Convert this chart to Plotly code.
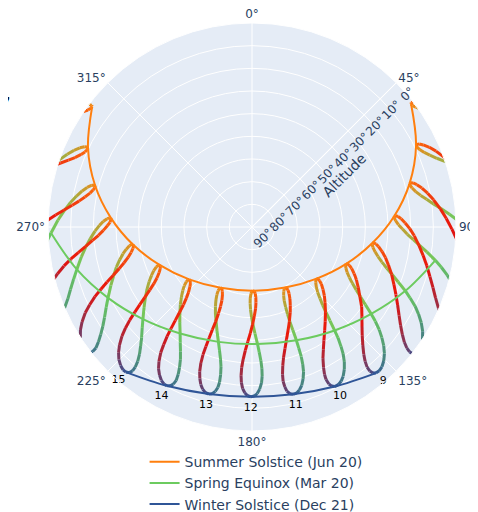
from datetime import date
import plotly.graph_objects as go
import plotly.colors as pc

# Sample dates (index 0..35): 1st, 11th, 21st of each month (Mar 20, Jun 20 for the 21st)
date_labels = ["2024-01-01", "2024-01-11", "2024-01-21", "2024-02-01", "2024-02-11", "2024-02-21",
               "2024-03-01", "2024-03-11", "2024-03-20", "2024-04-01", "2024-04-11", "2024-04-21",
               "2024-05-01", "2024-05-11", "2024-05-21", "2024-06-01", "2024-06-11", "2024-06-20",
               "2024-07-01", "2024-07-11", "2024-07-21", "2024-08-01", "2024-08-11", "2024-08-21",
               "2024-09-01", "2024-09-11", "2024-09-21", "2024-10-01", "2024-10-11", "2024-10-21",
               "2024-11-01", "2024-11-11", "2024-11-21", "2024-12-01", "2024-12-11", "2024-12-21"]

hours = list(range(4, 21))

# Solar azimuth (deg) and altitude (deg) at each hour, per sample date (None = below horizon)
az_h04 = [None]*14 + [55.1, 53.8, 52.9, 52.3, 52.0, 52.2] + [None]*16
alt_h04 = [None]*14 + [-0.9, 0.5, 1.2, 1.3, 0.8, -0.3] + [None]*16

az_h05 = [None]*10 + [72.8, 71.2, 69.6, 68.0, 66.6, 65.2, 64.2, 63.6, 63.4, 63.6, 64.4, 65.8, 67.6, 69.9, 72.8] + [None]*11
alt_h05 = [None]*10 + [-3.0, 0.2, 3.0, 5.4, 7.2, 8.5, 9.1, 9.2, 8.6, 7.6, 6.2, 4.2, 2.2, 0.0, -2.6] + [None]*11

az_h06 = [None]*8 + [88.5, 86.3, 84.5, 82.8, 81.0, 79.4, 77.8, 76.3, 75.2, 74.6, 74.4, 74.7, 75.6, 77.1,
                     79.1, 81.5, 84.5, 87.5, 90.6, 93.7] + [None]*8
alt_h06 = [None]*8 + [-1.5, 2.7, 6.1, 9.3, 12.0, 14.3, 16.1, 17.3, 17.9, 17.9, 17.3, 16.3, 14.9, 13.1,
                      11.1, 9.0, 6.5, 4.2, 1.8, -0.7] + [None]*8

az_h07 = [None]*5 + [105.7, 103.9, 102.0, 100.3, 98.1, 96.3, 94.5, 92.7, 90.8, 89.1, 87.5, 86.3, 85.7,
                     85.5, 85.9, 86.8, 88.5, 90.6, 93.1, 96.3, 99.4, 102.5, 105.6, 108.5, 111.1, 113.5,
                     115.2] + [None]*4
alt_h07 = [None]*5 + [-1.6, 1.2, 4.6, 7.8, 12.1, 15.5, 18.6, 21.4, 23.6, 25.4, 26.6, 27.1, 27.1, 26.5,
                      25.4, 24.1, 22.4, 20.4, 18.3, 15.9, 13.5, 11.0, 8.5, 5.8, 3.2, 0.3, -2.3] + [None]*4

az_h08 = [None]*2 + [123.4, 121.4, 119.5, 117.6, 115.9, 114.2, 112.6, 110.6, 108.8, 107.0, 105.1, 103.2,
                     101.4, 99.6, 98.3, 97.6, 97.4, 97.8, 98.8, 100.7, 102.9, 105.6, 108.8, 112.0, 115.1,
                     118.2, 121.0, 123.5, 125.6, 127.1, 128.0, 128.4, 128.3] + [None]*1
alt_h08 = [None]*2 + [-0.1, 1.8, 4.2, 7.1, 10.0, 13.5, 16.7, 21.1, 24.6, 27.8, 30.6, 32.9, 34.6, 35.9,
                      36.4, 36.4, 35.8, 34.8, 33.5, 31.6, 29.6, 27.5, 24.9, 22.5, 19.9, 17.1, 14.3, 11.4,
                      8.4, 5.7, 3.3, 1.3, -0.3] + [None]*1

az_h09 = [138.5, 137.1, 135.5, 133.7, 132.0, 130.4, 128.9, 127.4, 126.1, 124.4, 122.8, 121.1, 119.3,
          117.4, 115.5, 113.6, 112.2, 111.4, 111.1, 111.5, 112.6, 114.5, 116.8, 119.6, 122.9, 126.0,
          129.1, 132.0, 134.6, 136.8, 138.7, 139.9, 140.6, 140.7, 140.4, 139.7]
alt_h09 = [5.3, 5.8, 7.1, 9.2, 11.8, 14.8, 17.9, 21.5, 24.9, 29.4, 33.0, 36.3, 39.2, 41.6, 43.5, 44.8,
           45.4, 45.4, 44.8, 43.8, 42.4, 40.5, 38.4, 36.1, 33.3, 30.2, 27.5, 24.7, 21.7, 18.6, 15.3,
           12.5, 10.0, 7.9, 6.4, 5.5]

az_h10 = [151.3, 150.0, 148.6, 147.0, 145.6, 144.3, 143.3, 142.2, 141.4, 140.2, 139.1, 137.9, 136.4,
          134.8, 133.0, 131.1, 129.6, 128.6, 128.1, 128.5, 129.4, 131.3, 133.5, 136.1, 139.2, 142.2,
          145.0, 147.6, 149.8, 151.6, 153.0, 153.8, 154.1, 153.9, 153.4, 152.6]
alt_h10 = [10.7, 11.4, 12.8, 15.2, 17.9, 21.1, 24.3, 28.1, 31.6, 36.3, 40.1, 43.5, 46.5, 49.2, 51.2,
           52.7, 53.4, 53.5, 53.1, 51.9, 50.4, 48.3, 46.0, 43.5, 40.4, 37.3, 34.1, 30.8, 27.4, 24.2,
           20.5, 17.5, 15.2, 12.9, 11.5, 10.7]

az_h11 = [165.0, 163.8, 162.6, 161.4, 160.4, 159.7, 159.2, 158.9, 158.6, 158.4, 158.2, 157.8, 157.2,
          156.4, 155.2, 153.7, 152.3, 151.2, 150.4, 150.3, 150.9, 152.2, 153.9, 155.9, 158.4, 160.7,
          162.9, 164.8, 166.4, 167.5, 168.3, 168.6, 168.4, 168.0, 167.2, 166.2]
alt_h11 = [14.1, 15.1, 16.7, 19.3, 22.2, 25.5, 28.8, 32.7, 36.3, 41.1, 44.9, 48.5, 51.7, 54.5, 56.7,
           58.4, 59.3, 59.5, 59.1, 57.9, 56.4, 54.1, 51.6, 48.7, 45.2, 41.8, 38.2, 34.5, 30.8, 27.3,
           23.6, 20.5, 18.0, 16.0, 14.6, 14.0]

az_h12 = [179.2, 178.2, 177.3, 176.5, 176.1, 176.0, 176.2, 176.7, 177.3, 178.4, 179.4, 180.3, 181.0,
          181.4, 181.4, 180.9, 180.1, 179.2, 178.0, 177.2, 176.9, 177.0, 177.5, 178.5, 179.7, 180.9,
          182.1, 183.1, 183.8, 184.2, 184.2, 183.9, 183.3, 182.5, 181.5, 180.4]
alt_h12 = [15.4, 16.5, 18.4, 21.1, 24.1, 27.5, 30.9, 34.7, 38.3, 43.0, 46.8, 50.3, 53.5, 56.3, 58.6,
           60.5, 61.6, 61.9, 61.6, 60.6, 59.0, 56.6, 53.9, 50.7, 46.9, 43.2, 39.4, 35.5, 31.6, 27.9,
           24.2, 21.2, 18.6, 16.8, 15.5, 15.1]

az_h13 = [193.4, 192.6, 192.0, 191.8, 192.0, 192.5, 193.4, 194.8, 196.3, 198.6, 200.7, 202.8, 204.7,
          206.3, 207.4, 208.0, 207.9, 207.3, 206.1, 204.8, 203.5, 202.3, 201.6, 201.2, 201.0, 201.1,
          201.1, 201.1, 201.0, 200.6, 199.9, 199.0, 198.0, 196.9, 195.7, 194.5]
alt_h13 = [14.4, 15.7, 17.6, 20.0, 23.4, 26.8, 30.1, 33.8, 37.2, 41.6, 45.2, 48.4, 51.4, 54.1, 56.3,
           58.2, 59.3, 59.8, 59.7, 58.8, 57.3, 55.0, 52.3, 49.1, 45.2, 41.4, 37.5, 33.5, 29.6, 25.9,
           22.2, 19.3, 16.9, 15.2, 14.1, 13.9]

az_h14 = [207.2, 206.6, 206.3, 206.6, 207.3, 208.4, 209.9, 211.9, 214.0, 217.2, 220.0, 222.7, 225.2,
          227.4, 229.1, 230.2, 230.5, 230.2, 229.2, 227.7, 226.1, 224.2, 222.7, 221.4, 220.3, 219.4,
          218.6, 217.8, 216.9, 216.0, 214.7, 213.4, 212.0, 210.6, 209.3, 208.2]
alt_h14 = [11.2, 12.5, 14.5, 17.3, 20.3, 23.6, 26.7, 30.1, 33.3, 37.3, 40.5, 43.4, 46.1, 48.5, 50.5,
           52.3, 53.4, 53.9, 53.9, 53.3, 52.0, 49.8, 47.3, 44.3, 40.5, 36.7, 32.8, 28.9, 25.1, 21.5,
           17.9, 15.1, 13.0, 11.4, 10.6, 10.5]

az_h15 = [220.1, 219.7, 219.8, 220.4, 221.5, 223.1, 224.9, 227.4, 229.8, 233.4, 236.4, 239.4, 242.0,
          244.3, 246.1, 247.4, 247.9, 247.7, 246.8, 245.5, 243.8, 241.8, 240.0, 238.4, 236.7, 235.3,
          234.0, 232.7, 231.4, 230.0, 228.3, 226.7, 225.1, 223.5, 222.1, 221.0]
alt_h15 = [6.0, 7.5, 9.5, 12.2, 15.1, 18.1, 21.0, 24.2, 27.0, 30.7, 33.5, 36.2, 38.6, 40.8, 42.6, 44.3,
           45.4, 45.9, 46.0, 45.5, 44.3, 42.4, 40.0, 37.1, 33.4, 29.8, 26.1, 22.2, 18.6, 15.1, 11.7,
           9.1, 7.1, 5.8, 5.1, 5.2]

az_h16 = [232.2, 232.0, 232.2, 233.2, 234.6, 236.4, 238.5, 241.2, 243.8, 247.5, 250.5, 253.5, 256.1,
          258.3, 260.0, 261.3, 261.8, 261.6, 260.9, 259.7, 258.1, 256.2, 254.4, 252.6, 250.8, 249.2,
          247.6, 246.1, 244.4, 242.8, 240.8, 239.0, 237.2] + [None]*3
alt_h16 = [-0.7, 0.8, 2.8, 5.4, 8.1, 11.0, 13.7, 16.6, 19.2, 22.6, 25.2, 27.6, 29.9, 31.9, 33.7, 35.3,
           36.4, 36.9, 37.1, 36.6, 35.5, 33.7, 31.4, 28.6, 25.1, 21.6, 17.9, 14.2, 10.6, 7.3, 4.1,
           1.7, -0.1] + [None]*3

az_h17 = [None]*3 + [245.1, 246.7, 248.7, 251.0, 253.7, 256.4, 260.1, 263.1, 265.9, 268.5, 270.6, 272.2,
                     273.3, 273.7, 273.7, 273.0, 271.9, 270.5, 268.7, 266.9, 265.2, 263.3, 261.6, 260.0,
                     258.3, 256.5, 254.7] + [None]*6
alt_h17 = [None]*3 + [-2.6, 0.0, 2.8, 5.3, 8.0, 10.5, 13.6, 16.1, 18.5, 20.7, 22.7, 24.4, 26.0, 27.1,
                      27.6, 27.7, 27.3, 26.2, 24.4, 22.2, 19.4, 16.0, 12.5, 8.9, 5.3, 1.8, -1.4] + [None]*6

az_h18 = [None]*7 + [265.6, 268.3, 272.0, 274.9, 277.7, 280.0, 282.0, 283.5, 284.5, 284.9, 284.8, 284.1,
                     283.1, 281.8, 280.2, 278.5, 276.9, 275.1, 273.5, 271.8] + [None]*9
alt_h18 = [None]*7 + [-1.1, 1.3, 4.3, 6.8, 9.2, 11.4, 13.4, 15.2, 16.8, 17.9, 18.4, 18.5, 18.0, 17.0,
                      15.1, 12.8, 10.1, 6.6, 3.2, -0.4] + [None]*9

az_h19 = [None]*10 + [286.6, 289.3, 291.5, 293.3, 294.7, 295.6, 295.9, 295.7, 295.1, 294.2, 293.0, 291.4,
                      290.0, 288.5, 286.8] + [None]*11
alt_h19 = [None]*10 + [-2.3, 0.1, 2.4, 4.5, 6.4, 8.1, 9.1, 9.7, 9.7, 9.2, 8.1, 6.1, 3.8, 1.0, -2.5] + [None]*11

az_h20 = [None]*14 + [306.2, 307.0, 307.2, 307.0, 306.4, 305.5, 304.4] + [None]*15
alt_h20 = [None]*14 + [-1.6, 0.1, 1.2, 1.7, 1.7, 1.1, -0.1] + [None]*15

AZ = {4: az_h04, 5: az_h05, 6: az_h06, 7: az_h07, 8: az_h08, 9: az_h09, 10: az_h10, 11: az_h11,
      12: az_h12, 13: az_h13, 14: az_h14, 15: az_h15, 16: az_h16, 17: az_h17, 18: az_h18, 19: az_h19,
      20: az_h20}
ALT = {4: alt_h04, 5: alt_h05, 6: alt_h06, 7: alt_h07, 8: alt_h08, 9: alt_h09, 10: alt_h10, 11: alt_h11,
       12: alt_h12, 13: alt_h13, 14: alt_h14, 15: alt_h15, 16: alt_h16, 17: alt_h17, 18: alt_h18,
       19: alt_h19, 20: alt_h20}

day_lines = [("Summer Solstice (Jun 20)", "2024-06-20"),
             ("Spring Equinox (Mar 20)", "2024-03-20"),
             ("Winter Solstice (Dec 21)", "2024-12-21")]
radial_ticks = [0, 10, 20, 30, 40, 50, 60, 70, 80, 90]
radial_labels = ["0°", "10°", "20°", "30°", "40°", "50°", "60°", "70°", "80°", "90°"]

# ---- styling ----
BLUE, GREEN, ORANGE, RED = "#2F5597", "#6CCB5F", "#FF7F0E", "#E8120C"
line_colors = [ORANGE, GREEN, BLUE]
FONT = "DejaVu Sans, Verdana, sans-serif"

dts = [date.fromisoformat(s) for s in date_labels]
ref = date(2023, 12, 21)
def frac(d):
    return ((d - ref).days % 366) / 366
cscale = [[0.0, BLUE], [frac(date(2024, 3, 20)), GREEN], [frac(date(2024, 6, 20)), ORANGE],
          [frac(date(2024, 9, 22)), RED], [1.0, BLUE]]

fig = go.Figure()
n = len(dts)
for i in range(n):
    j = (i + 1) % n
    f1, f2 = frac(dts[i]), frac(dts[j])
    if f2 < f1:
        f2 += 1
    col = pc.sample_colorscale(cscale, [((f1 + f2) / 2) % 1])[0]
    th, rr = [], []
    for h in hours:
        a1, a2 = ALT[h][i], ALT[h][j]
        if a1 is None or a2 is None or (a1 < 0 and a2 < 0):
            continue
        th += [AZ[h][i], AZ[h][j], None]
        rr += [a1, a2, None]
    if th:
        fig.add_trace(go.Scatterpolar(theta=th, r=rr, mode="lines", line=dict(color=col, width=3),
                                      showlegend=False, hoverinfo="skip"))

for (name, ds), col in zip(day_lines, line_colors):
    k = date_labels.index(ds)
    hs = [h for h in hours if ALT[h][k] is not None and ALT[h][k] > 0]
    fig.add_trace(go.Scatterpolar(theta=[AZ[h][k] for h in hs], r=[ALT[h][k] for h in hs], mode="lines",
                                  line=dict(color=col, width=2, shape="spline"), name=name))

kw = date_labels.index("2024-12-21")
lh = [h for h in hours if ALT[h][kw] is not None and ALT[h][kw] > 0]
fig.add_trace(go.Scatterpolar(theta=[AZ[h][kw] for h in lh], r=[ALT[h][kw] - 5 for h in lh], mode="text",
                              text=[str(h) for h in lh], textfont=dict(color="black", size=11, family=FONT),
                              showlegend=False, hoverinfo="skip", cliponaxis=False))

# The page body has an 8px margin, so the figure is 16px smaller than the window.
fig.update_layout(
    width=470, height=504, margin=dict(l=40, r=22, t=15, b=81, autoexpand=False),
    font=dict(family=FONT, size=12, color="#2a3f5f"),
    paper_bgcolor="white",
    polar=dict(
        bgcolor="#E5ECF6",
        angularaxis=dict(rotation=90, direction="clockwise", gridcolor="white", linecolor="white"),
        radialaxis=dict(range=[90, 0], tickvals=radial_ticks, ticktext=radial_labels, angle=45,
                        tickangle=0, ticks="outside", ticklen=5, tickcolor="rgba(0,0,0,0)",
                        gridcolor="white", linecolor="white", title=dict(text="Altitude")),
    ),
    legend=dict(x=0.51, xanchor="center", y=-0.037, yanchor="top", bgcolor="rgba(0,0,0,0)",
                font=dict(size=14)),
    annotations=[dict(text="e,", xref="paper", yref="paper", x=-0.086, y=0.832, xanchor="right",
                      yanchor="middle", showarrow=False, font=dict(size=24, color="black"))],
)
fig.write_html("out.html")
